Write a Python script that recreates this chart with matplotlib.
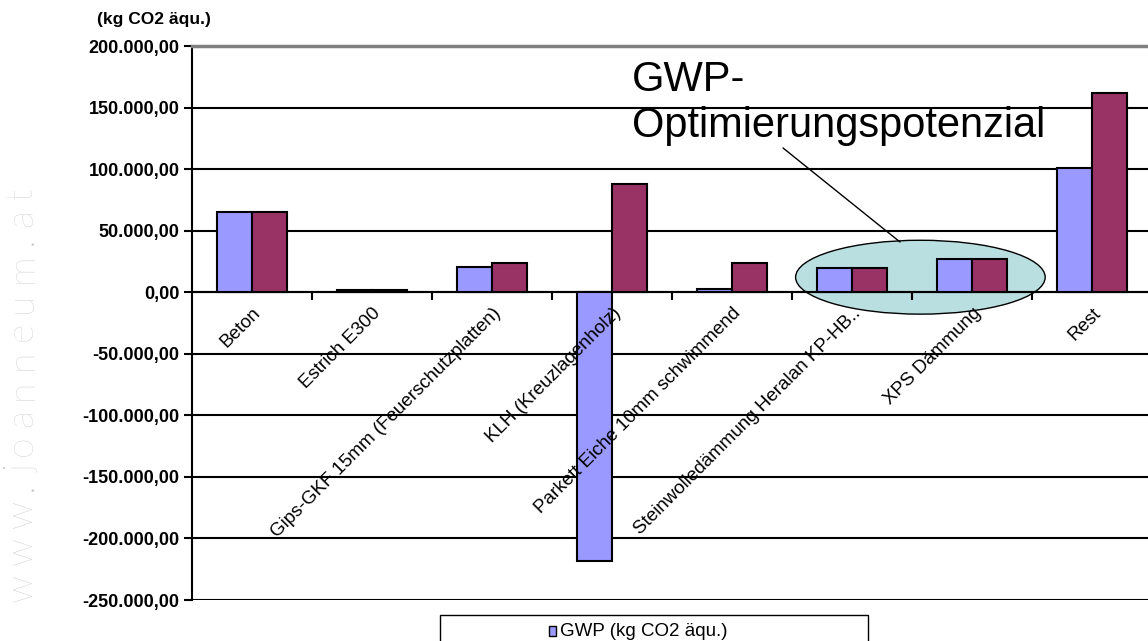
import matplotlib
matplotlib.use("Agg")
import matplotlib.pyplot as plt
from matplotlib.patches import Ellipse, Rectangle
import numpy as np

categories = ["Beton", "Estrich E300", "Gips-GKF 15mm (Feuerschutzplatten)",
              "KLH (Kreuzlagenholz)", "Parkett Eiche 10mm schwimmend",
              "Steinwolledämmung Heralan KP-HB..", "XPS Dämmung", "Rest"]
gwp = [65500, 2000, 20500, -218000, 3000, 19500, 27000, 100500]
gwp_opt = [65500, 2000, 23800, 88000, 24000, 19500, 27000, 162000]
series_names = ["GWP (kg CO2 äqu.)", "GWP optimiert (kg CO2 äqu.)"]
yticks = np.arange(-250000, 200001, 50000)

plt.rcParams['font.family'] = ['Liberation Sans', 'DejaVu Sans']

fig = plt.figure(figsize=(11.48, 6.41), dpi=100)
ax = fig.add_axes([192/1148, 1-600/641, 960/1148, 554/641])

x = np.arange(len(categories))
w = 0.29
ax.bar(x - w/2, gwp, w, color='#9999FF', edgecolor='black', linewidth=1.5, zorder=3)
ax.bar(x + w/2, gwp_opt, w, color='#993366', edgecolor='black', linewidth=1.5, zorder=3)

ax.set_xlim(-0.5, len(categories) - 0.5)
ax.set_ylim(-250000, 200000)
ax.set_yticks(yticks)
ax.set_yticklabels([f"{v:,.2f}".replace(",", "X").replace(".", ",").replace("X", ".")
                    for v in yticks], fontsize=13, fontweight='bold')
ax.yaxis.grid(True, color='black', linewidth=1.5)
ax.yaxis.set_zorder(2)
ax.tick_params(axis='y', length=6, width=1.5, pad=3)

ax.spines['bottom'].set_position(('data', 0))
ax.spines['bottom'].set_linewidth(1.5)
ax.spines['left'].set_linewidth(1.5)
ax.spines['top'].set_color('#808080')
ax.spines['top'].set_linewidth(2.5)
ax.spines['top'].set_zorder(4)
ax.spines['right'].set_visible(False)
ax.set_xticks(x)
ax.set_xticklabels(categories, rotation=45, ha='right', va='top',
                   rotation_mode='anchor', fontsize=13.5)
ax.set_xticks(np.arange(len(categories)) + 0.5, minor=True)
ax.tick_params(axis='x', which='major', length=0, pad=9)
ax.tick_params(axis='x', which='minor', length=6, width=1.5)
ax.xaxis.set_zorder(4)

ell = Ellipse((5.57, 12200), 2.08, 60000, facecolor='#B9DFE0',
              edgecolor='black', linewidth=1, zorder=1.5)
ax.add_patch(ell)
ax.text(0.458, 0.975, "GWP-\nOptimierungspotenzial", transform=ax.transAxes,
        fontsize=30, va='top', ha='left', linespacing=1.2)
ax.annotate('', xy=(5.4, 40800), xytext=(0.6156, 0.816),
            textcoords='axes fraction',
            arrowprops=dict(arrowstyle='-', color='black', lw=1, shrinkA=0, shrinkB=0))

fig.text(97/1148, 1-12/641, "(kg CO2 äqu.)", fontsize=12.5, fontweight='bold',
         va='top', ha='left')

# watermark, letter-spaced
renderer = fig.canvas.get_renderer()
ypos = 602
for ch in "www.joanneum.at":
    t = fig.text(22/1148, 1-ypos/641, ch, rotation=90, fontsize=27,
                 color='#c8c8c8', family=['Lato', 'DejaVu Sans'], fontweight='light',
                 va='bottom', ha='center')
    ypos -= t.get_window_extent(renderer).height + 9

fig.patches.append(Rectangle((440/1148, -0.1), 428/1148, 1-615/641+0.1,
                             transform=fig.transFigure, facecolor='white',
                             edgecolor='black', linewidth=1))
fig.patches.append(Rectangle((549/1148, 1-636/641), 7/1148, 10/641,
                             transform=fig.transFigure, facecolor='#9999FF',
                             edgecolor='black', linewidth=1))
fig.text(560/1148, 1-631/641, series_names[0], fontsize=13.5, ha='left', va='center')

fig.savefig("out.png", dpi=100)
